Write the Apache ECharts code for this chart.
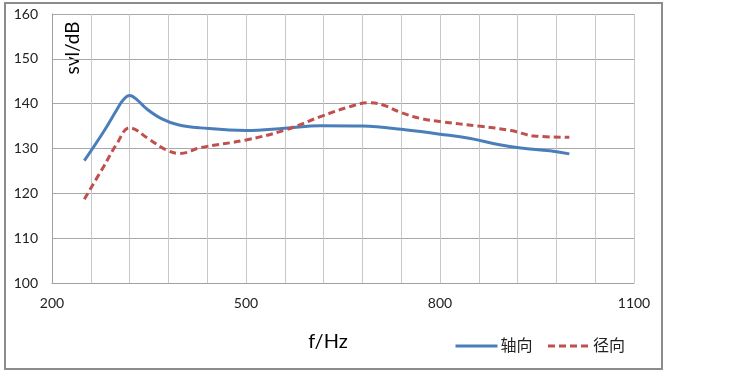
<!DOCTYPE html>
<html><head><meta charset="utf-8">
<script src="https://cdn.jsdelivr.net/npm/echarts@6/dist/echarts.min.js"></script>
<style>html,body{margin:0;padding:0;background:#fff}#c{width:730px;height:383px}</style>
</head><body><div id="c"></div>
<script>
var axialFreq = [250,280,300,310,320,332,345,370,395,430,500,560,615,680,740,800,845,890,925,970,1000];
var axialVals = [127.3,133.8,138.6,140.8,141.8,140.8,139.0,136.6,135.3,134.6,134.0,134.5,135.1,135.0,134.3,133.2,132.3,130.9,130.1,129.5,128.8];
var radialFreq = [250,280,300,320,350,375,398,430,500,560,615,660,690,712,740,770,800,860,910,945,1000];
var radialVals = [118.7,126.0,131.0,134.6,132.1,129.8,128.9,130.2,131.9,134.1,137.1,139.3,140.2,139.7,138.0,136.7,136.0,135.0,134.0,132.8,132.5];
var xTickLabels = [200,500,800,1100];
var seriesNames = ['轴向','径向'];

function pairs(xs, ys){ return xs.map(function(x,i){return [x, ys[i]];}); }
var font = 'Lato, "Noto Sans CJK SC", sans-serif';
var chart = echarts.init(document.getElementById('c'), null, {renderer:'canvas'});
chart.setOption({
  animation:false,
  grid:{left:52,right:96,top:14,bottom:100},
  xAxis:{type:'value',min:200,max:1100,interval:60,
    axisLine:{show:true,lineStyle:{color:'#a0a0a0',width:1}},
    axisTick:{show:false},
    axisLabel:{color:'#222',fontSize:14,fontFamily:font,margin:13,
      formatter:function(v){return xTickLabels.indexOf(v)>=0?String(v):'';}},
    splitLine:{show:true,lineStyle:{color:'#c8c8c8',width:1}}
  },
  yAxis:{type:'value',min:100,max:160,interval:10,
    axisLine:{show:true,lineStyle:{color:'#a0a0a0',width:1}},
    axisTick:{show:false},
    axisLabel:{color:'#222',fontSize:14,fontFamily:font,margin:14},
    splitLine:{show:true,lineStyle:{color:'#a8a8a8',width:1}}
  },
  legend:{show:true,left:449,top:333,itemWidth:42,itemHeight:14,itemGap:14,
    itemStyle:{opacity:0},
    lineStyle:{width:3},
    textStyle:{fontSize:16,color:'#222',fontFamily:font,padding:[0,0,0,-2]},
    data:[{name:seriesNames[0]},{name:seriesNames[1]}]},
  series:[
    {name:seriesNames[0],type:'line',smooth:0.4,symbol:'none',data:pairs(axialFreq,axialVals),
     lineStyle:{color:'#4a7ebb',width:3},itemStyle:{color:'#4a7ebb'}},
    {name:seriesNames[1],type:'line',smooth:0.4,symbol:'none',data:pairs(radialFreq,radialVals),
     lineStyle:{color:'#c0504d',width:3,type:[7,4]},itemStyle:{color:'#c0504d'}}
  ],
  graphic:[
    {type:'rect',shape:{x:5,y:3,width:657,height:366},style:{fill:'none',stroke:'#8c8c8c',lineWidth:2},silent:true},
    {type:'text',x:73,y:48,rotation:Math.PI/2,style:{text:'svl/dB',font:'19px '+font,fill:'#000',textAlign:'center',textVerticalAlign:'middle'}},
    {type:'text',x:328,y:342,style:{text:'f/Hz',font:'20px '+font,fill:'#000',textAlign:'center',textVerticalAlign:'middle'}}
  ]
});
</script></body></html>
